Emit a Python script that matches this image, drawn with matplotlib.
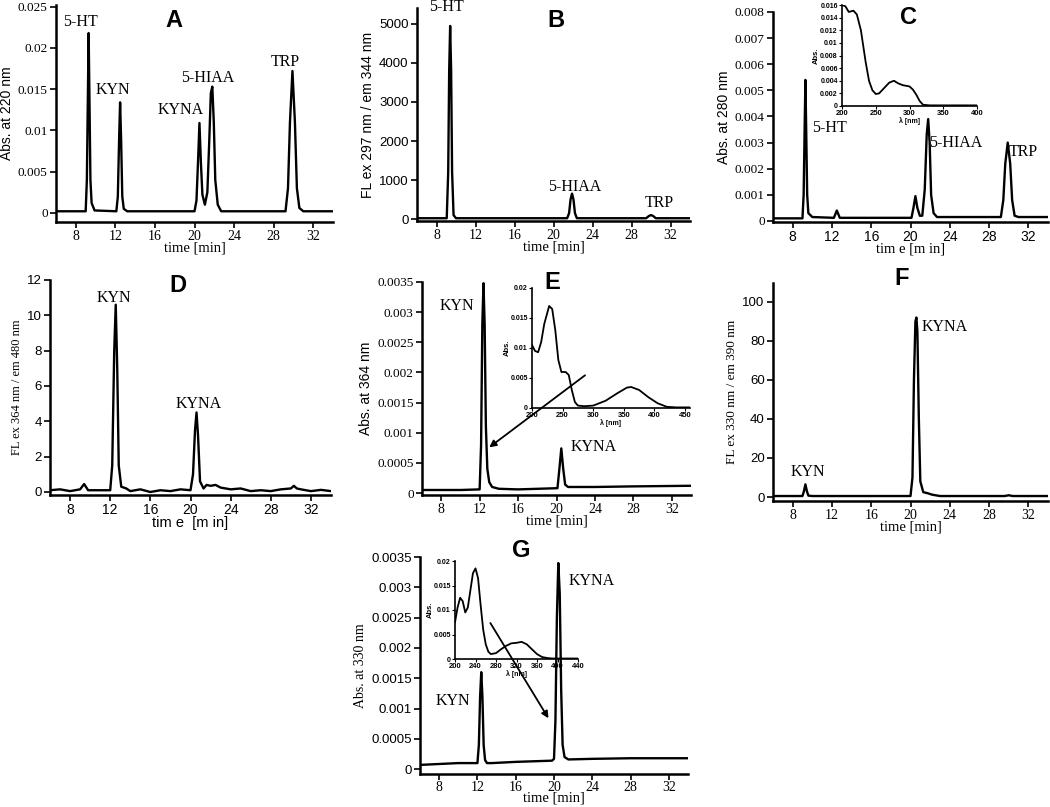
import matplotlib.pyplot as plt

SERIF = 'Liberation Serif'
SANS = 'Liberation Sans'
W, H = 1050, 807

# ---- data ----
time_ticks = [8, 12, 16, 20, 24, 28, 32]

# A: Abs. at 220 nm
a_t = [6, 9.0, 9.12, 9.22, 9.3, 9.38, 9.48, 9.6, 9.9, 12.1, 12.25, 12.38, 12.48, 12.58, 12.7, 12.85, 13.2,
       20.0, 20.2, 20.35, 20.5, 20.65, 20.8, 21.05, 21.3, 21.5, 21.65, 21.8, 21.95, 22.1, 22.35, 22.7,
       29.2, 29.45, 29.65, 29.9, 30.15, 30.35, 30.6, 31.0, 34]
a_v = [0.0002, 0.0002, 0.004, 0.014, 0.0218, 0.014, 0.004, 0.0012, 0.0003, 0.0002, 0.002, 0.009, 0.0134, 0.009, 0.002, 0.0005, 0.0002,
       0.0002, 0.0015, 0.006, 0.0109, 0.006, 0.0022, 0.0010, 0.0025, 0.009, 0.0145, 0.0153, 0.011, 0.004, 0.001, 0.0002,
       0.0002, 0.003, 0.011, 0.0172, 0.011, 0.003, 0.0006, 0.0002, 0.0002]
a_yt = [0, 0.005, 0.01, 0.015, 0.02, 0.025]
a_ytl = ['0', '0.005', '0.01', '0.015', '0.02', '0.025']

# B: fluorescence ex 297 / em 344
b_t = [6, 9.05, 9.2, 9.3, 9.4, 9.5, 9.6, 9.75, 10, 21.4, 21.6, 21.75, 21.9, 22.05, 22.2, 22.4,
       29.5, 29.8, 30.0, 30.2, 30.5, 34]
b_v = [20, 20, 1200, 3800, 4950, 3800, 1200, 100, 20, 20, 150, 500, 650, 500, 150, 20,
       20, 80, 100, 80, 20, 20]
b_yt = [0, 1000, 2000, 3000, 4000, 5000]

# C: Abs. at 280 nm
c_t = [6, 9.0, 9.12, 9.22, 9.3, 9.38, 9.48, 9.6, 10.0, 12.2, 12.5, 12.8, 20.1, 20.3, 20.5, 20.7, 20.95,
       21.2, 21.45, 21.65, 21.8, 21.95, 22.1, 22.35, 22.7, 29.2, 29.45, 29.65, 29.9, 30.15, 30.35, 30.6, 31.0, 34]
c_v = [0.0001, 0.0001, 0.001, 0.0035, 0.0054, 0.0035, 0.001, 0.0003, 0.00015, 0.00012, 0.0004, 0.00012,
       0.00012, 0.0005, 0.00095, 0.0005, 0.0002, 0.0002, 0.0012, 0.0033, 0.0039, 0.003, 0.001, 0.0003, 0.00015,
       0.00015, 0.0008, 0.0022, 0.003, 0.0022, 0.0008, 0.0002, 0.00015, 0.00015]
c_yt = [0, 0.001, 0.002, 0.003, 0.004, 0.005, 0.006, 0.007, 0.008]
c_ytl = ['0', '0.001', '0.002', '0.003', '0.004', '0.005', '0.006', '0.007', '0.008']
# C inset spectrum
c_wl = [200, 205, 210, 217, 222, 228, 235, 240, 245, 250, 255, 262, 270, 277, 283, 290, 300, 305, 310, 315, 320, 330, 400]
c_sp = [0.016, 0.0158, 0.0149, 0.0151, 0.0145, 0.012, 0.007, 0.004, 0.0025, 0.0019, 0.002, 0.0028, 0.0037, 0.004,
        0.0036, 0.0033, 0.0031, 0.0026, 0.0018, 0.0008, 0.0002, 0.0001, 0.0001]
c_in_yt = [0, 0.002, 0.004, 0.006, 0.008, 0.01, 0.012, 0.014, 0.016]
c_in_ytl = ['0', '0.002', '0.004', '0.006', '0.008', '0.01', '0.012', '0.014', '0.016']

# D: fluorescence ex 364 / em 480
d_t = [6, 7, 8, 9, 9.4, 9.8, 11, 12, 12.2, 12.4, 12.55, 12.7, 12.85, 13.1, 13.6, 14, 15, 16, 17, 18, 19, 20,
       20.25, 20.45, 20.6, 20.75, 20.95, 21.3, 21.6, 22.0, 22.5, 23, 24, 25, 26, 27, 28, 29, 30, 30.3, 30.6, 31, 32, 33, 34]
d_v = [0.1, 0.15, 0.05, 0.15, 0.45, 0.1, 0.1, 0.1, 1.5, 8, 10.6, 7, 1.5, 0.3, 0.2, 0.05, 0.15, 0.0, 0.1, 0.05, 0.15, 0.1,
       1.0, 3.5, 4.5, 3.2, 0.6, 0.2, 0.4, 0.35, 0.4, 0.25, 0.15, 0.2, 0.05, 0.1, 0.05, 0.15, 0.2, 0.35, 0.2, 0.15, 0.05, 0.12, 0.05]
d_yt = [0, 2, 4, 6, 8, 10, 12]

# E: Abs. at 364 nm
e_t = [6, 10, 12.0, 12.15, 12.28, 12.4, 12.52, 12.65, 12.8, 13.0, 13.3, 14, 16, 20.1, 20.3, 20.5, 20.7, 20.9, 21.2, 24, 28, 34]
e_v = [0.00005, 0.00005, 0.00006, 0.0008, 0.0028, 0.00348, 0.0028, 0.0011, 0.0004, 0.00018, 0.0001, 0.00007, 0.00006,
       0.00008, 0.0004, 0.00074, 0.0004, 0.00014, 0.0001, 0.0001, 0.00011, 0.00012]
abs_yt = [0, 0.0005, 0.001, 0.0015, 0.002, 0.0025, 0.003, 0.0035]
abs_ytl = ['0', '0.0005', '0.001', '0.0015', '0.002', '0.0025', '0.003', '0.0035']
# E inset spectrum
e_wl = [200, 205, 210, 215, 220, 228, 233, 238, 243, 248, 255, 260, 265, 270, 275, 285, 300, 320, 340, 355, 362,
        375, 390, 405, 420, 435, 458]
e_sp = [0.0105, 0.0095, 0.0093, 0.011, 0.014, 0.017, 0.0165, 0.013, 0.008, 0.006, 0.006, 0.0055, 0.003, 0.001,
        0.0004, 0.0003, 0.0004, 0.0012, 0.0025, 0.0034, 0.0035, 0.003, 0.0018, 0.0008, 0.0002, 0.0001, 0.0001]
sp_yt = [0, 0.005, 0.01, 0.015, 0.02]
sp_ytl = ['0', '0.005', '0.01', '0.015', '0.02']

# F: fluorescence ex 330 / em 390
f_t = [6, 9.0, 9.15, 9.3, 9.45, 9.6, 10, 20.0, 20.2, 20.35, 20.5, 20.6, 20.7, 20.85, 21.0, 21.3, 21.7, 22.2, 23,
       29.6, 30, 30.4, 34]
f_v = [0.5, 0.5, 3, 6.5, 3, 0.7, 0.5, 0.5, 10, 60, 90, 92, 85, 40, 8, 2.5, 2, 1.2, 0.5, 0.5, 0.9, 0.5, 0.5]
f_yt = [0, 20, 40, 60, 80, 100]

# G: Abs. at 330 nm
g_t = [6, 10, 12.0, 12.15, 12.28, 12.4, 12.52, 12.65, 12.8, 13.0, 13.5, 16, 19.8, 20.0, 20.15, 20.3, 20.45, 20.6,
       20.75, 20.9, 21.1, 21.5, 24, 28, 34]
g_v = [0.00007, 0.0001, 0.0001, 0.0004, 0.0012, 0.0016, 0.0012, 0.0004, 0.00015, 0.0001, 0.0001, 0.00012, 0.00014,
       0.00017, 0.0008, 0.0025, 0.0034, 0.0029, 0.0013, 0.0004, 0.0002, 0.00016, 0.00017, 0.00018, 0.00018]
# G inset spectrum
g_wl = [200, 205, 210, 215, 220, 225, 230, 235, 240, 245, 250, 255, 260, 265, 270, 280, 290, 300, 310, 320, 330,
        340, 350, 360, 370, 380, 390, 400, 440]
g_sp = [0.0075, 0.0105, 0.0125, 0.0118, 0.0095, 0.0105, 0.014, 0.0175, 0.0185, 0.0165, 0.011, 0.006, 0.003, 0.0015,
        0.001, 0.0012, 0.002, 0.0027, 0.0032, 0.0033, 0.0035, 0.003, 0.002, 0.001, 0.0004, 0.0002, 0.0001, 0.0001, 0.0001]


def px_rect(left, top, right, bottom):
    return [left / W, 1 - bottom / H, (right - left) / W, (bottom - top) / H]


def chrom(rect, t, v, ylim, yt, ytl, ylabel, xlabel, fy, fx, fyl, fxl, ylsize=10, xpad=-1):
    ax = fig.add_axes(px_rect(*rect))
    ax.plot(t, v, 'k', lw=1.7)
    ax.set_xlim(6, 34)
    ax.set_ylim(ylim)
    for s in ['top', 'right']:
        ax.spines[s].set_visible(False)
    for s in ['left', 'bottom']:
        ax.spines[s].set_linewidth(1.8)
    ax.set_xticks(time_ticks)
    ax.set_xticklabels([str(x) for x in time_ticks], fontfamily=fx, fontsize=10)
    ax.set_yticks(yt)
    ax.set_yticklabels(ytl, fontfamily=fy, fontsize=9.5)
    ax.tick_params(direction='out', length=4, width=1.2, pad=2)
    ax.set_ylabel(ylabel, fontfamily=fyl, fontsize=ylsize, labelpad=3)
    ax.set_xlabel(xlabel, fontfamily=fxl, fontsize=10.5, labelpad=xpad)
    ax.patch.set_alpha(0)
    return ax


def inset(rect, wl, sp, xlim, xt, yt, ytl):
    ax = fig.add_axes(px_rect(*rect))
    ax.plot(wl, sp, 'k', lw=1.3)
    ax.set_xlim(xlim)
    ax.set_ylim(0, yt[-1])
    for s in ['top', 'right']:
        ax.spines[s].set_visible(False)
    for s in ['left', 'bottom']:
        ax.spines[s].set_linewidth(1.2)
    ax.set_xticks(xt)
    ax.set_xticklabels([str(x) for x in xt], fontfamily=SANS, fontsize=5.5, fontweight='bold')
    ax.set_yticks(yt)
    ax.set_yticklabels(ytl, fontfamily=SANS, fontsize=5, fontweight='bold')
    ax.tick_params(direction='out', length=2, width=0.8, pad=1)
    ax.set_ylabel('Abs.', fontfamily=SANS, fontsize=5.5, fontweight='bold', labelpad=0)
    ax.set_xlabel('λ [nm]', fontfamily=SANS, fontsize=5, fontweight='bold', labelpad=0)
    ax.patch.set_alpha(0)
    return ax


def peak(ax, x, y, s):
    ax.text(x, y, s, fontfamily=SERIF, fontsize=11.5, ha='center', va='center')


def letter(ax, x, y, s):
    ax.text(x, y, s, fontfamily=SANS, fontsize=17, fontweight='bold', ha='center', va='center', clip_on=False)


fig = plt.figure(figsize=(10.5, 8.07), dpi=100)

# A
axA = chrom((56, 5, 333, 222), a_t, a_v, (-0.0011, 0.0252), a_yt, a_ytl,
            'Abs. at 220 nm', 'time [min]', SERIF, SERIF, SANS, SERIF)
letter(axA, 17.9, 0.0233, 'A')
peak(axA, 8.5, 0.0231, '5-HT')
peak(axA, 11.8, 0.0149, 'KYN')
peak(axA, 18.6, 0.0125, 'KYNA')
peak(axA, 21.3, 0.0164, '5-HIAA')
peak(axA, 29.2, 0.0183, 'TRP')

# B
axB = chrom((417, 8, 690, 221), b_t, b_v, (-51, 5410), b_yt, [str(y) for y in b_yt],
            'FL ex 297 nm / em 344 nm', 'time [min]', SANS, SERIF, SANS, SERIF)
letter(axB, 20.3, 5100, 'B')
peak(axB, 9.0, 5440, '5-HT')
peak(axB, 22.2, 820, '5-HIAA')
peak(axB, 30.8, 410, 'TRP')

# C
axC = chrom((773, 12, 1048, 222), c_t, c_v, (-0.00004, 0.008), c_yt, c_ytl,
            'Abs. at 280 nm', 'tim e [m in]', SERIF, SANS, SANS, SERIF)
letter(axC, 19.8, 0.0078, 'C')
peak(axC, 11.7, 0.00356, '5-HT')
peak(axC, 24.6, 0.0030, '5-HIAA')
peak(axC, 31.5, 0.00264, 'TRP')
inset((842, 5, 977, 106), c_wl, c_sp, (200, 400), [200, 250, 300, 350, 400], c_in_yt, c_in_ytl)

# D
axD = chrom((50, 280, 331, 495), d_t, d_v, (-0.17, 12), d_yt, [str(y) for y in d_yt],
            'FL ex 364 nm / em 480 nm', 'tim e  [m in]', SANS, SANS, SERIF, SANS, ylsize=9)
letter(axD, 18.7, 11.7, 'D')
peak(axD, 12.4, 11.0, 'KYN')
peak(axD, 20.8, 5.0, 'KYNA')

# E
axE = chrom((422, 282, 691, 495), e_t, e_v, (-0.000033, 0.0035), abs_yt, abs_ytl,
            'Abs. at 364 nm', 'time [min]', SERIF, SERIF, SANS, SERIF)
letter(axE, 19.6, 0.00349, 'E')
peak(axE, 9.6, 0.0031, 'KYN')
peak(axE, 23.9, 0.00077, 'KYNA')
axEi = inset((532, 288, 690, 408), e_wl, e_sp, (200, 458), [200, 250, 300, 350, 400, 450], sp_yt, sp_ytl)
axE.annotate('', xy=(12.77, 0.00073), xytext=(23.2, 0.00198),
             arrowprops=dict(arrowstyle='-|>', color='k', lw=1.3, mutation_scale=10))

# F
axF = chrom((773, 283, 1048, 501), f_t, f_v, (-2.05, 109.7), f_yt, [str(y) for y in f_yt],
            'FL ex 330 nm / em 390 nm', 'time [min]', SANS, SERIF, SERIF, SERIF, ylsize=9.5)
letter(axF, 19.1, 112, 'F')
peak(axF, 23.5, 87, 'KYNA')
peak(axF, 9.6, 12.8, 'KYN')

# G
axG = chrom((420, 557, 688, 774), g_t, g_v, (-0.00008, 0.0035), abs_yt, abs_ytl,
            'Abs. at 330 nm', 'time [min]', SANS, SERIF, SERIF, SERIF, xpad=-1.5)
axG.tick_params(axis='x', pad=1)
letter(axG, 16.6, 0.0036, 'G')
peak(axG, 23.9, 0.0031, 'KYNA')
peak(axG, 9.4, 0.00113, 'KYN')
axGi = inset((455, 561, 578, 659), g_wl, g_sp, (200, 440), [200, 240, 280, 320, 360, 400, 440], sp_yt, sp_ytl)
axG.annotate('', xy=(19.57, 0.0008), xytext=(13.2, 0.00245),
             arrowprops=dict(arrowstyle='-|>', color='k', lw=1.3, mutation_scale=10))

# arrows above the insets
axE.set_zorder(3)
axG.set_zorder(3)

plt.savefig('out.png', dpi=100)
